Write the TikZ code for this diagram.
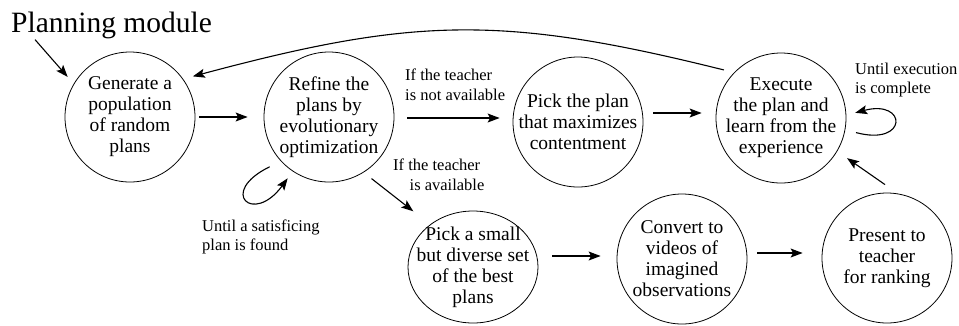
\documentclass[tikz,border=0pt]{standalone}
\usepackage{fontspec}
\setmainfont{Liberation Serif}
\usetikzlibrary{arrows.meta,shapes.geometric}

\tikzset{
  state/.style={circle, draw, line width=0.8pt, minimum size=130pt, inner sep=0pt},
  statetext/.style={align=center, inner sep=0pt, font=\fontsize{19.5}{21}\selectfont},
  note/.style={inner sep=0pt, font=\fontsize{16.5}{19.5}\selectfont},
  arr/.style={-{Stealth[length=12pt,width=9pt,inset=2.5pt]}, line width=1.1pt},
}

\begin{document}
\begin{tikzpicture}[x=1pt,y=1pt]
    % Page size
    \useasboundingbox (0,0) rectangle (959,-325);

    % Title
    \node[inner sep=0pt, anchor=west, font=\fontsize{29.5}{31}\selectfont] (title) at (11,-25) {Planning module};

    % Define the states
    \node[state] (gen) at (130,-117) {};
    \node[state] (refine) at (329,-117) {};
    \node[state] (pickbest) at (578,-122) {};
    \node[state] (execute) at (781,-118) {};
    \node[ellipse, draw, line width=0.8pt, minimum width=130pt, minimum height=112pt, inner sep=0pt] (picksmall) at (473,-267) {};
    \node[state] (convert) at (682,-259) {};
    \node[state] (present) at (887,-258) {};

    % Texts inside the states
    \node[statetext] (gentxt) at (gen) {Generate a\\population\\of random\\plans};
    \node[statetext] (refinetxt) at (refine) {Refine the\\plans by\\evolutionary\\optimization};
    \node[statetext] (pickbesttxt) at (pickbest) {Pick the plan\\that maximizes\\contentment};
    \node[statetext] (executetxt) at (execute) {Execute\\the plan and\\learn from the\\experience};
    \node[statetext] (picksmalltxt) at (picksmall) {Pick a small\\but diverse set\\of the best\\plans};
    \node[statetext] (converttxt) at (convert) {Convert to\\videos of\\imagined\\observations};
    \node[statetext] (presenttxt) at (present) {Present to\\teacher\\for ranking};

    % Conditions
    \node[note, align=left, anchor=west] (notavail) at (405,-85) {If the teacher\\is not available};
    \node[note, align=left, anchor=west] (avail) at (393,-175) {If the teacher\\\quad is available};
    \node[note, align=left, anchor=west] (untilsat) at (202,-237) {Until a satisficing\\plan is found};
    \node[note, align=left, anchor=west] (untilexec) at (855,-80) {Until execution\\is complete};

    % Transitions
    \draw[arr] ([shift={(24,-1)}]title.south west) -- ([shift={(-7.5,4.5)}]gen.147);
    \draw[arr] ([xshift=4]gen.east) -- ([xshift=-16]refine.west);
    \draw[arr] ([shift={(13,-1)}]refine.east) -- ([shift={(-13,4)}]pickbest.west);
    \draw[arr] ([shift={(10,9)}]pickbest.east) -- ([shift={(-14,5)}]execute.west);
    \draw[arr] ([shift={(5,-8)}]refine.-55) -- ([shift={(-17,13)}]picksmall.135);
    \draw[arr] ([shift={(14,11)}]picksmall.east) -- ([shift={(-16,3)}]convert.west);
    \draw[arr] ([shift={(10,6)}]convert.east) -- ([shift={(-19,5)}]present.west);
    \draw[arr] ([shift={(-2,8)}]present.north) -- ([shift={(10,-6.5)}]execute.-31);

    % Back to the start
    \draw[arr] ([shift={(-7,6)}]execute.140) to[out=166,in=15,looseness=1.1] ([shift={(8,5)}]gen.33);

    % Loops
    \draw[arr] ([shift={(220:12)}]refine.220) to[out=206,in=234,looseness=7] ([shift={(236:8.5)}]refine.236);
    \draw[arr] ([shift={(-11:11)}]execute.-11) to[out=-15,in=15,looseness=7] ([shift={(4:9)}]execute.4);

\end{tikzpicture}
\end{document}
